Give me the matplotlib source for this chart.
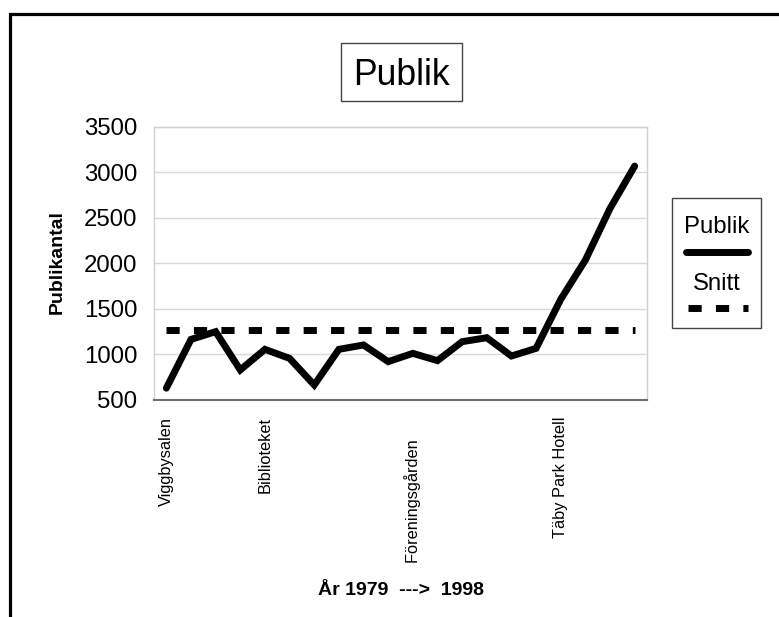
import matplotlib
matplotlib.use("Agg")
import matplotlib.pyplot as plt
from matplotlib.lines import Line2D
from matplotlib.patches import Rectangle

plt.rcParams['font.family'] = ['Liberation Sans', 'DejaVu Sans']

# ---- data ----
years = list(range(1979, 1999))
publik = [630, 1165, 1250, 830, 1056, 957, 665, 1056, 1104, 921,
          1012, 932, 1140, 1184, 983, 1067, 1605, 2036, 2603, 3068]
snitt = [1265] * 20
venue_ticks = [0, 4, 10, 16]
venue_labels = ["Viggbysalen", "Biblioteket", "Föreningsgården     ", "Täby Park Hotell"]
y_ticks = [500, 1000, 1500, 2000, 2500, 3000, 3500]

W, H = 779, 617
fig = plt.figure(figsize=(W / 100, H / 100), dpi=100)

def fx(x):
    return x / W

def fy(y):
    return 1 - y / H

# plot area
left, right, top, bottom = 154, 647, 126.7, 400
ax = fig.add_axes([fx(left), fy(bottom), (right - left) / W, (bottom - top) / H])

xs = list(range(len(years)))
ax.plot(xs, publik, color='black', lw=5, solid_capstyle='round', solid_joinstyle='miter', zorder=3)
ls, = ax.plot(xs, snitt, color='black', lw=5, zorder=3)
ls.set_dashes((1.9, 2.05))
ls.set_dash_capstyle('butt')

ax.set_xlim(-0.5, len(years) - 0.5)
ax.set_ylim(500, 3500)
ax.set_yticks(y_ticks)
ax.set_yticklabels([str(v) for v in y_ticks], fontsize=17.3)
ax.set_xticks(venue_ticks)
ax.set_xticklabels(venue_labels, rotation=90, fontsize=11.8, va='top', ha='center')
ax.tick_params(axis='y', length=0, pad=12)
ax.tick_params(axis='x', length=0, pad=12)
ax.grid(axis='y', color='#d9d9d9', lw=1)
ax.set_axisbelow(True)
for s in ['left', 'right', 'top']:
    ax.spines[s].set_color('#d0d0d0')
    ax.spines[s].set_linewidth(1)
ax.spines['bottom'].set_color('#6e6e6e')
ax.spines['bottom'].set_linewidth(1.5)

# axis titles
fig.text(fx(57), fy(262.5), "Publikantal", rotation=90, ha='center', va='center',
         fontsize=14, fontweight='bold')
fig.text(fx(401), fy(595), "År 1979  --->  1998", ha='center', va='baseline',
         fontsize=14, fontweight='bold')

# title with box
fig.add_artist(Rectangle((fx(341), fy(101)), 121 / W, 58 / H, transform=fig.transFigure,
                         fill=False, edgecolor='#444444', lw=1))
fig.text(fx(401.5), fy(85), "Publik", ha='center', va='baseline', fontsize=25.6)

# legend (manual, text above key)
fig.add_artist(Rectangle((fx(672), fy(328)), 89 / W, 130 / H, transform=fig.transFigure,
                         fill=False, edgecolor='#444444', lw=1))
fig.text(fx(716.7), fy(233), "Publik", ha='center', va='baseline', fontsize=17.2)
fig.add_artist(Line2D([fx(686), fx(748)], [fy(252), fy(252)], transform=fig.transFigure,
                      color='black', lw=5, solid_capstyle='round'))
fig.text(fx(716.7), fy(290), "Snitt", ha='center', va='baseline', fontsize=17.2)
ld = Line2D([fx(688), fx(748)], [fy(308), fy(308)], transform=fig.transFigure,
            color='black', lw=5)
ld.set_dashes((1.9, 2.05))
ld.set_dash_capstyle('butt')
fig.add_artist(ld)

# outer chart frame (cropped)
fig.add_artist(Line2D([fx(9.5), fx(9.5), fx(W + 5)], [fy(H + 5), fy(14), fy(14)],
                      transform=fig.transFigure, color='black', lw=2.3,
                      solid_joinstyle='miter'))

fig.savefig("out.png", dpi=100)
